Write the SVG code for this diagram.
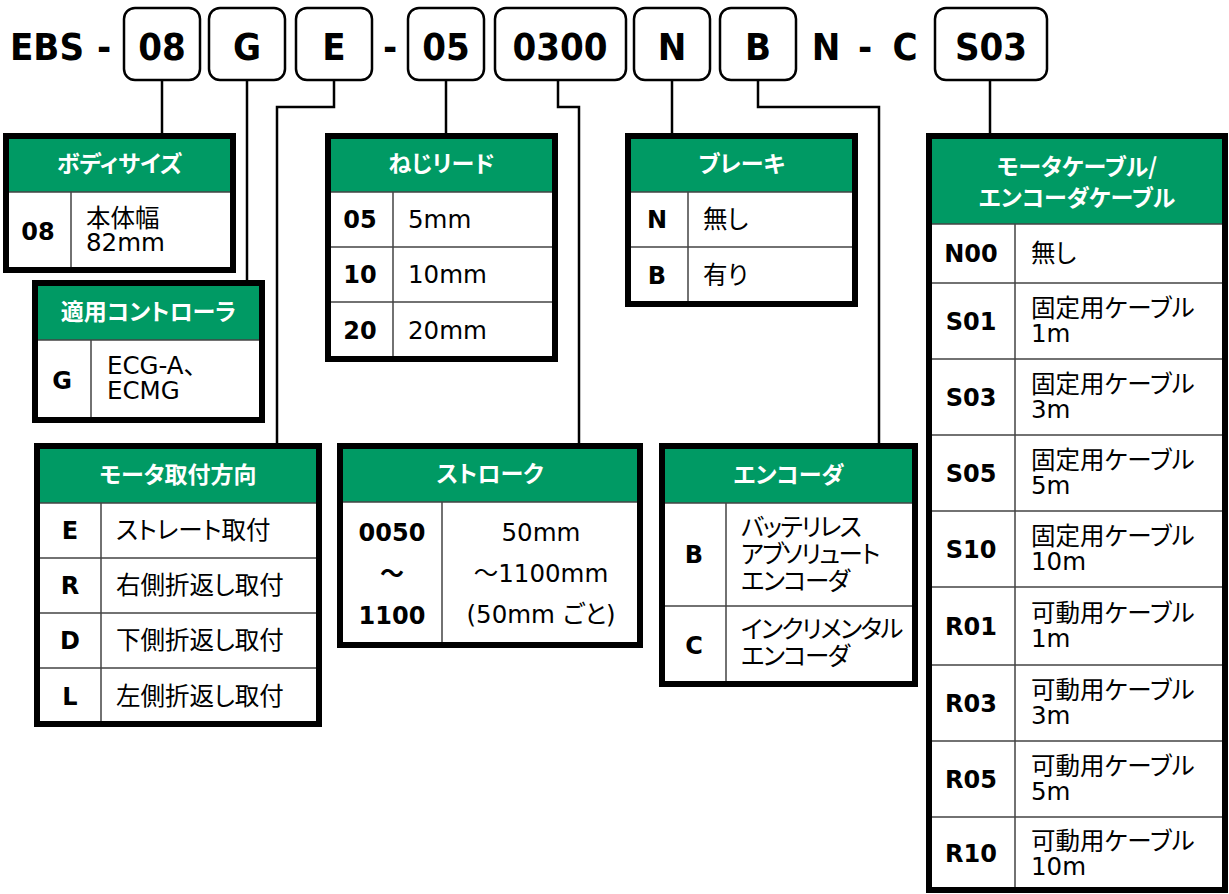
<svg xmlns="http://www.w3.org/2000/svg" width="1229" height="894" viewBox="0 0 1229 894">
<style>
.title{font-family:'DejaVu Sans Condensed','DejaVu Sans',sans-serif;font-stretch:condensed;font-weight:bold;font-size:38px;fill:#000;}
.mid{text-anchor:middle;}
.seg{fill:#fff;stroke:#000;stroke-width:2.5;}
.conn{fill:none;stroke:#000;stroke-width:2.5;}
.hdr{fill:#009A64;}
.body{fill:#fff;}
.frame{fill:none;stroke:#000;stroke-width:6;}
.div{stroke:#444;stroke-width:1.5;fill:none;}
.ht{font-family:'Noto Sans CJK JP',sans-serif;font-weight:bold;font-size:23px;fill:#fff;text-anchor:middle;font-feature-settings:"palt";}
.code{font-family:'DejaVu Sans','Noto Sans CJK JP',sans-serif;font-weight:bold;font-size:24px;fill:#000;text-anchor:middle;}
.txt{font-family:'DejaVu Sans','Noto Sans CJK JP',sans-serif;font-size:24.5px;fill:#000;font-feature-settings:"palt";}
.kana{letter-spacing:-1.5px;}
</style>

<g id="title">
<text class="title" x="10" y="60">EBS</text>
<text class="title mid" x="104" y="60">-</text>
<text class="title mid" x="390" y="60">-</text>
<text class="title mid" x="826" y="60">N</text>
<text class="title mid" x="865" y="60">-</text>
<text class="title mid" x="905" y="60">C</text>
</g>

<g id="seg-08"><rect class="seg" x="124" y="8" width="76" height="72" rx="11"/><text class="title mid" x="162" y="60">08</text></g>
<g id="seg-G"><rect class="seg" x="209" y="8" width="76" height="72" rx="11"/><text class="title mid" x="247" y="60">G</text></g>
<g id="seg-E"><rect class="seg" x="296" y="8" width="76" height="72" rx="11"/><text class="title mid" x="334" y="60">E</text></g>
<g id="seg-05"><rect class="seg" x="408" y="8" width="76" height="72" rx="11"/><text class="title mid" x="446" y="60">05</text></g>
<g id="seg-0300"><rect class="seg" x="495" y="8" width="131" height="72" rx="11"/><text class="title mid" x="560" y="60">0300</text></g>
<g id="seg-N"><rect class="seg" x="634" y="8" width="76" height="72" rx="11"/><text class="title mid" x="672" y="60">N</text></g>
<g id="seg-B"><rect class="seg" x="720" y="8" width="76" height="72" rx="11"/><text class="title mid" x="758" y="60">B</text></g>
<g id="seg-S03"><rect class="seg" x="935" y="8" width="112" height="72" rx="11"/><text class="title mid" x="991" y="60">S03</text></g>

<g id="connectors">
<path class="conn" d="M162 80 V133"/>
<path class="conn" d="M247 80 V280"/>
<path class="conn" d="M334 80 V107 H277 V443"/>
<path class="conn" d="M446 80 V133"/>
<path class="conn" d="M558 80 V107 H579 V443"/>
<path class="conn" d="M672 80 V133"/>
<path class="conn" d="M758 80 V107 H879 V443"/>
<path class="conn" d="M990 80 V133"/>
</g>

<g id="t-body-size">
<rect class="body" x="6" y="136" width="227" height="134"/>
<rect class="hdr" x="6" y="136" width="227" height="56"/>
<path class="div" d="M6 192 H233 M71 192 V270"/>
<rect class="frame" x="6" y="136" width="227" height="134"/>
<text class="ht" x="119.5" y="172">ボディサイズ</text>
<text class="code" x="38" y="239.5">08</text>
<text class="txt" x="86" y="227"><tspan x="86" y="227">本体幅</tspan><tspan x="86" y="251">82mm</tspan></text>
</g>

<g id="t-controller">
<rect class="body" x="35" y="283" width="227" height="137"/>
<rect class="hdr" x="35" y="283" width="227" height="57"/>
<path class="div" d="M35 340 H262 M91 340 V420"/>
<rect class="frame" x="35" y="283" width="227" height="137"/>
<text class="ht" x="148.5" y="319.5">適用コントローラ</text>
<text class="code" x="62" y="388.5">G</text>
<text class="txt" x="107" y="374"><tspan x="107" y="374">ECG-A、</tspan><tspan x="107" y="399">ECMG</tspan></text>
</g>

<g id="t-mount">
<rect class="body" x="37" y="446" width="282" height="278"/>
<rect class="hdr" x="37" y="446" width="282" height="57"/>
<path class="div" d="M37 503 H319 M37 558 H319 M37 613 H319 M37 668 H319 M101 503 V724"/>
<rect class="frame" x="37" y="446" width="282" height="278"/>
<text class="ht" x="178" y="482.5">モータ取付方向</text>
<text class="code" x="70" y="539">E</text>
<text class="code" x="70" y="594">R</text>
<text class="code" x="70" y="649">D</text>
<text class="code" x="70" y="704.5">L</text>
<text class="txt" x="116" y="539">ストレート取付</text>
<text class="txt" x="116" y="594">右側折返し取付</text>
<text class="txt" x="116" y="649">下側折返し取付</text>
<text class="txt" x="116" y="704.5">左側折返し取付</text>
</g>

<g id="t-lead">
<rect class="body" x="328" y="136" width="227" height="223"/>
<rect class="hdr" x="328" y="136" width="227" height="56"/>
<path class="div" d="M328 192 H555 M328 247 H555 M328 302 H555 M393 192 V359"/>
<rect class="frame" x="328" y="136" width="227" height="223"/>
<text class="ht" x="441.5" y="172">ねじリード</text>
<text class="code" x="360" y="228">05</text>
<text class="code" x="360" y="283">10</text>
<text class="code" x="360" y="339">20</text>
<text class="txt" x="408" y="228">5mm</text>
<text class="txt" x="408" y="283">10mm</text>
<text class="txt" x="408" y="339">20mm</text>
</g>

<g id="t-stroke">
<rect class="body" x="340" y="446" width="300" height="199"/>
<rect class="hdr" x="340" y="446" width="300" height="56"/>
<path class="div" d="M340 502 H640 M442 502 V645"/>
<rect class="frame" x="340" y="446" width="300" height="199"/>
<text class="ht" x="490" y="482">ストローク</text>
<text class="code" x="392" y="541"><tspan x="392" y="541">0050</tspan><tspan x="392" y="582" style="font-family:'Noto Sans CJK JP',sans-serif">～</tspan><tspan x="392" y="624">1100</tspan></text>
<text class="txt" x="541" y="541" text-anchor="middle"><tspan x="541" y="541">50mm</tspan><tspan x="541" y="582">～1100mm</tspan><tspan x="541" y="623">(50mm ごと)</tspan></text>
</g>

<g id="t-brake">
<rect class="body" x="628" y="136" width="227" height="168"/>
<rect class="hdr" x="628" y="136" width="227" height="56"/>
<path class="div" d="M628 192 H855 M628 247 H855 M688 192 V304"/>
<rect class="frame" x="628" y="136" width="227" height="168"/>
<text class="ht" x="741.5" y="172">ブレーキ</text>
<text class="code" x="657" y="228">N</text>
<text class="code" x="657" y="284">B</text>
<text class="txt" x="703" y="228">無し</text>
<text class="txt" x="703" y="284">有り</text>
</g>

<g id="t-encoder">
<rect class="body" x="662" y="446" width="253" height="238"/>
<rect class="hdr" x="662" y="446" width="253" height="57"/>
<path class="div" d="M662 503 H915 M662 606 H915 M726 503 V684"/>
<rect class="frame" x="662" y="446" width="253" height="238"/>
<text class="ht" x="788.5" y="482.5">エンコーダ</text>
<text class="code" x="694" y="563">B</text>
<text class="code" x="694" y="654">C</text>
<text class="txt kana" x="741" y="536"><tspan x="741" y="536">バッテリレス</tspan><tspan x="741" y="563">アブソリュート</tspan><tspan x="741" y="590">エンコーダ</tspan></text>
<text class="txt kana" x="741" y="638"><tspan x="741" y="638">インクリメンタル</tspan><tspan x="741" y="665">エンコーダ</tspan></text>
</g>

<g id="t-cable">
<rect class="body" x="929" y="136" width="296" height="754"/>
<rect class="hdr" x="929" y="136" width="296" height="88"/>
<path class="div" d="M929 224 H1225 M929 283 H1225 M929 359 H1225 M929 435 H1225 M929 511 H1225 M929 587 H1225 M929 665 H1225 M929 741 H1225 M929 817 H1225 M1015 224 V890"/>
<rect class="frame" x="929" y="136" width="296" height="754"/>
<text class="ht" x="1077" y="175"><tspan x="1077" y="175">モータケーブル/</tspan><tspan x="1077" y="206">エンコーダケーブル</tspan></text>
<text class="code" x="971" y="262">N00</text>
<text class="txt" x="1031" y="262">無し</text>
<text class="code" x="971" y="329.5">S01</text>
<text class="txt" x="1031" y="317"><tspan x="1031" y="317">固定用ケーブル</tspan><tspan x="1031" y="342">1m</tspan></text>
<text class="code" x="971" y="405.5">S03</text>
<text class="txt" x="1031" y="393"><tspan x="1031" y="393">固定用ケーブル</tspan><tspan x="1031" y="418">3m</tspan></text>
<text class="code" x="971" y="481.5">S05</text>
<text class="txt" x="1031" y="469"><tspan x="1031" y="469">固定用ケーブル</tspan><tspan x="1031" y="494">5m</tspan></text>
<text class="code" x="971" y="557.5">S10</text>
<text class="txt" x="1031" y="545"><tspan x="1031" y="545">固定用ケーブル</tspan><tspan x="1031" y="570">10m</tspan></text>
<text class="code" x="971" y="634.5">R01</text>
<text class="txt" x="1031" y="622"><tspan x="1031" y="622">可動用ケーブル</tspan><tspan x="1031" y="647">1m</tspan></text>
<text class="code" x="971" y="711.5">R03</text>
<text class="txt" x="1031" y="699"><tspan x="1031" y="699">可動用ケーブル</tspan><tspan x="1031" y="724">3m</tspan></text>
<text class="code" x="971" y="787.5">R05</text>
<text class="txt" x="1031" y="775"><tspan x="1031" y="775">可動用ケーブル</tspan><tspan x="1031" y="800">5m</tspan></text>
<text class="code" x="971" y="862">R10</text>
<text class="txt" x="1031" y="849.5"><tspan x="1031" y="849.5">可動用ケーブル</tspan><tspan x="1031" y="874.5">10m</tspan></text>
</g>
</svg>
